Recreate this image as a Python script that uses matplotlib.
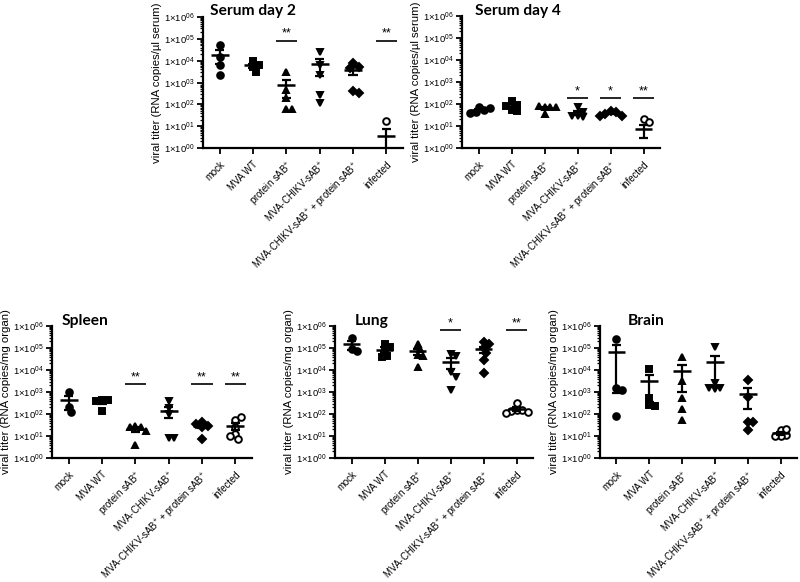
import numpy as np
import matplotlib
matplotlib.use('Agg')
import matplotlib.pyplot as plt
from matplotlib.ticker import FixedLocator, FuncFormatter, LogLocator, NullFormatter

plt.rcParams['font.family'] = ['Liberation Sans', 'DejaVu Sans']
plt.rcParams['mathtext.fontset'] = 'custom'
plt.rcParams['mathtext.rm'] = 'Liberation Sans'
plt.rcParams['mathtext.it'] = 'Liberation Sans:italic'
plt.rcParams['mathtext.bf'] = 'Liberation Sans:bold'

# Grupos (eje x)
grupos = ['mock', 'MVA WT', r'protein sAB$^{+}$', r'MVA-CHIKV-sAB$^{+}$',
          r'MVA-CHIKV-sAB$^{+}$ + protein sAB$^{+}$', 'infected']

# Valores (copias de ARN), un listado por grupo
serum_d2 = [
    [5.1e4, 1.4e4, 6.3e3, 2.2e3],
    [9.5e3, 6.3e3, 5.3e3, 3.1e3],
    [3000, 450, 190, 60, 60],
    [2.6e4, 6.3e3, 2.2e3, 270, 112],
    [7500, 5200, 4500, 400, 330],
    [18, 0, 0, 0, 0],
]
serum_d4 = [
    [75, 55, 45, 40, 65],
    [130, 90, 80, 55, 50],
    [75, 70, 80, 70, 35],
    [70, 45, 30, 28, 25],
    [50, 45, 35, 30, 30],
    [20, 16, 0, 0, 0],
]
spleen = [
    [950, 200, 120],
    [450, 420, 380, 130],
    [28, 27, 26, 17, 4],
    [400, 180, 100, 8, 8],
    [45, 30, 25, 35, 7.5],
    [55, 70, 25, 12, 7, 10],
]
lung = [
    [2.8e5, 9e4, 7.5e4],
    [1.5e5, 1.1e5, 8e4, 4.5e4, 4e4],
    [1.5e5, 9e4, 5e4, 4.5e4, 1.3e4],
    [5.5e4, 4.5e4, 8e3, 5e3, 1.2e3],
    [1.8e5, 1.5e5, 1e5, 6e4, 3e4, 7.5e3],
    [330, 160, 150, 130, 120, 115],
]
brain = [
    [2.6e5, 1.5e3, 1.2e3, 80],
    [1.1e4, 550, 260, 230],
    [4.1e4, 3.1e3, 550, 170, 54],
    [1.1e5, 2.6e3, 1.6e3, 1.3e3, 1.5e3],
    [3400, 600, 45, 19, 45],
    [18, 11, 10, 10, 20],
]

# Significancia por grupo
sig_d2 = ['', '', '**', '', '', '**']
sig_d4 = ['', '', '', '*', '*', '**']
sig_spleen = ['', '', '**', '', '**', '**']
sig_lung = ['', '', '', '*', '', '**']
sig_brain = ['', '', '', '', '', '']

marcadores = ['o', 's', '^', 'v', 'D', 'o']
rellenos = ['black', 'black', 'black', 'black', 'black', 'white']


def posiciones_x(valores, centro, px_cat=33.0, px_dec=22.0, diam=5.5):
    """Reparte los puntos tipo beeswarm para que no se tapen"""
    colocados = []
    xs = []
    paso = diam * 0.5
    for v in valores:
        y = np.log10(v) * px_dec
        candidatos = [0]
        for j in range(1, 8):
            candidatos += [j * paso, -j * paso]
        for x in candidatos:
            if all(np.hypot(x - cx, y - cy) >= diam for cx, cy in colocados):
                break
        colocados.append((x, y))
        xs.append(centro + x / px_cat)
    return xs


def dibujar_panel(ax, datos, sig, y_sig, titulo, ylabel, tx, fig):
    for i, vals in enumerate(datos):
        vals = np.array(vals, dtype=float)
        media = vals.mean()
        sem = vals.std(ddof=1) / np.sqrt(len(vals))
        pos = vals[vals > 0]
        xs = posiciones_x(pos, i)
        ax.plot(xs, pos, linestyle='none', marker=marcadores[i],
                ms=4.8 if marcadores[i] != 'D' else 4.3,
                mfc=rellenos[i], mec='black', mew=1.4, zorder=3, clip_on=False)
        # media +- SEM
        lo = max(media - sem, 1e-3)
        hi = media + sem
        ax.hlines(media, i - 0.27, i + 0.27, color='black', lw=1.8, zorder=4)
        ax.vlines(i, lo, hi, color='black', lw=1.6, zorder=4)
        ax.hlines([lo, hi], i - 0.14, i + 0.14, color='black', lw=1.6, zorder=4)
        if sig[i]:
            ax.hlines(y_sig, i - 0.32, i + 0.32, color='black', lw=1.2)
            ax.text(i, y_sig * 1.15, sig[i], ha='center', va='bottom', fontsize=9)

    ax.set_yscale('log')
    ax.set_ylim(1, 1e6)
    ax.set_xlim(-0.5, 5.5)
    ax.yaxis.set_major_locator(FixedLocator([10.0 ** k for k in range(7)]))
    ax.yaxis.set_major_formatter(FuncFormatter(
        lambda v, p: '1×10$^{0%d}$' % int(round(np.log10(v)))))
    ax.yaxis.set_minor_locator(LogLocator(base=10, subs=np.arange(2, 10), numticks=20))
    ax.yaxis.set_minor_formatter(NullFormatter())
    ax.set_xticks(range(len(grupos)))
    ax.set_xticklabels(grupos, rotation=45, ha='right', rotation_mode='anchor', fontsize=6.9)
    ax.tick_params(axis='y', which='major', labelsize=6.8, width=1.3, length=4, pad=2)
    ax.tick_params(axis='y', which='minor', width=0.9, length=2)
    ax.tick_params(axis='x', width=1.3, length=4, pad=4)
    for lado in ['top', 'right']:
        ax.spines[lado].set_visible(False)
    for lado in ['left', 'bottom']:
        ax.spines[lado].set_linewidth(1.6)
    ax.set_ylabel(ylabel, fontsize=8.2, labelpad=1.5)
    fig.text(tx[0] / 800, 1 - tx[1] / 582, titulo, fontsize=11.2, fontweight='bold',
             family='Lato', ha='left', va='baseline')


fig = plt.figure(figsize=(8, 5.82), dpi=100)

def px_axes(izq, der, arriba, abajo):
    return fig.add_axes([izq / 800, 1 - abajo / 582, (der - izq) / 800, (abajo - arriba) / 582])

ax1 = px_axes(203, 403, 17, 148)
ax2 = px_axes(462, 660, 16, 148)
ax3 = px_axes(52, 252, 326, 458)
ax4 = px_axes(335, 533, 326, 458)
ax5 = px_axes(600, 797, 326, 458)

lab_serum = 'viral titer (RNA copies/µl serum)'
lab_organ = 'viral titer (RNA copies/mg organ)'

dibujar_panel(ax1, serum_d2, sig_d2, 8e4, 'Serum day 2', lab_serum, (210, 15), fig)
dibujar_panel(ax2, serum_d4, sig_d4, 180, 'Serum day 4', lab_serum, (475, 15), fig)
dibujar_panel(ax3, spleen, sig_spleen, 2.2e3, 'Spleen', lab_organ, (62, 325), fig)
dibujar_panel(ax4, lung, sig_lung, 6.3e5, 'Lung', lab_organ, (355, 325), fig)
dibujar_panel(ax5, brain, sig_brain, 1, 'Brain', lab_organ, (628, 325), fig)

plt.savefig('out.png', dpi=100)
